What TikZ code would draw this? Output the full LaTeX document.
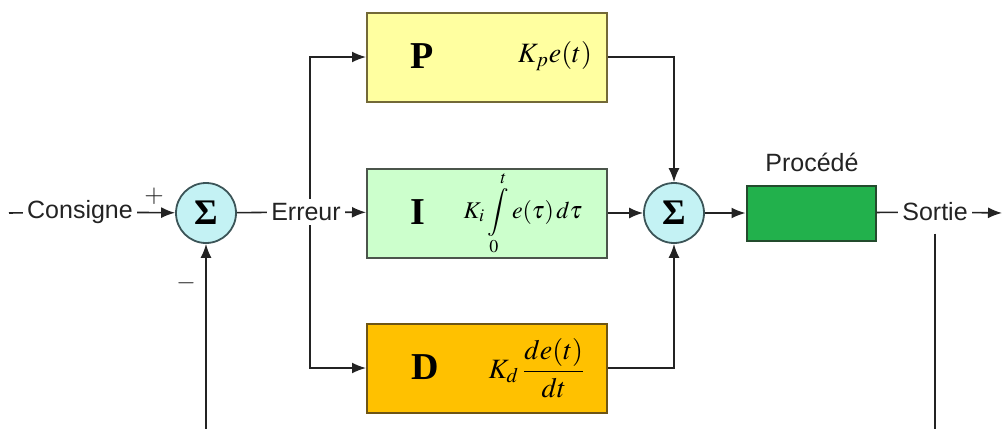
\documentclass[tikz,border=0pt]{standalone}
\usepackage{amsmath}
\usepackage{mathptmx}
\usepackage{fontspec}
\setmainfont{Liberation Serif}
\setsansfont{Liberation Sans}
\usetikzlibrary{calc,arrows.meta}
\definecolor{wirecol}{RGB}{35,35,35}
\definecolor{sumfill}{RGB}{196,242,244}
\definecolor{sumline}{RGB}{60,85,88}
\definecolor{pfill}{RGB}{255,255,160}
\definecolor{pline}{RGB}{115,105,55}
\definecolor{ifill}{RGB}{204,255,204}
\definecolor{iline}{RGB}{75,85,75}
\definecolor{dfill}{RGB}{255,193,0}
\definecolor{dline}{RGB}{110,85,20}
\definecolor{procfill}{RGB}{34,177,76}
\definecolor{procline}{RGB}{35,75,45}
\tikzstyle{wire}=[draw=wirecol,line width=0.8pt]
\tikzstyle{sumnode}=[circle,draw=sumline,fill=sumfill,line width=0.9pt,minimum size=30pt,inner sep=0pt,font=\fontsize{18}{18}\selectfont\bfseries]
\tikzstyle{pidbox}=[rectangle,line width=1pt,minimum width=120pt,minimum height=44.5pt]
\tikzstyle{lbl}=[font=\sffamily\fontsize{12.5}{15}\selectfont,inner sep=2pt,text=wirecol]
\tikzstyle{letter}=[font=\fontsize{19}{19}\selectfont\bfseries,inner sep=0pt]
\tikzstyle{formula}=[font=\fontsize{14}{16}\selectfont,inner sep=0pt]

\begin{document}
\begin{tikzpicture}[x=0.5pt,y=-0.5pt,>={Latex[length=7pt,width=5.5pt]}]
    \useasboundingbox (0,0) rectangle (1003,429);
    % input and first summer
    \coordinate (cin) at (9,213);
    \node[lbl] (consigne) at (80,212) {Consigne};
    \node[sumnode] (sum1) at (206,213) {Σ};
    \node[lbl] (erreur) at (306,212) {Erreur};
    \node[lbl] (plus) at (154,196) {$+$};
    \node[lbl] (minus) at (186,283) {$-$};
    \draw[wire] (cin) -- (consigne);
    \draw[wire,->] (consigne) -- (sum1);
    \draw[wire] (sum1) -- (erreur);
    % P, I and D boxes
    \node[pidbox,draw=pline,fill=pfill] (pbox) at (487,57) {};
    \node[letter] (pletter) at (422,56) {P};
    \node[formula] (pterm) at (555,56) {$K_p e(t)$};
    \node[pidbox,draw=iline,fill=ifill] (ibox) at (487,213) {};
    \node[letter] (iletter) at (418,212) {I};
    \node[formula,font=\fontsize{12}{14}\selectfont] (iterm) at (523,213) {$K_i\displaystyle\int\limits_0^t e(\tau)\,d\tau$};
    \node[pidbox,draw=dline,fill=dfill] (dbox) at (487,368) {};
    \node[letter] (dletter) at (425,367) {D};
    \node[formula] (dterm) at (537,368) {$K_d\,\dfrac{de(t)}{dt}$};
    % branches from the error
    \draw[wire,->] (erreur) -- (ibox);
    \draw[wire,->] ([xshift=2pt]erreur.north) |- (pbox.west);
    \draw[wire,->] ([xshift=2pt]erreur.south) |- (dbox.west);
    % second summer
    \node[sumnode] (sum2) at (674,213) {Σ};
    \draw[wire,->] (pbox.east) -| (sum2.north);
    \draw[wire,->] (ibox) -- (sum2);
    \draw[wire,->] (dbox.east) -| (sum2.south);
    % process and output
    \node[rectangle,draw=procline,fill=procfill,line width=1pt,minimum width=64.5pt,minimum height=27.5pt] (proc) at (811,213) {};
    \node[lbl] (proclabel) at (812,162) {Procédé};
    \node[lbl] (sortie) at (935,212) {Sortie};
    \coordinate (cout) at (1002,213);
    \draw[wire,->] (sum2) -- (proc);
    \draw[wire] (proc) -- (sortie);
    \draw[wire,->] (sortie) -- (cout);
    % feedback lines, cut at the bottom
    \coordinate (fbl) at (206,429);
    \coordinate (fbr) at (935,429);
    \draw[wire] ([yshift=-4pt]sortie.south) -- (fbr);
    \draw[wire,->] (fbl) -- (sum1.south);
\end{tikzpicture}
\end{document}
